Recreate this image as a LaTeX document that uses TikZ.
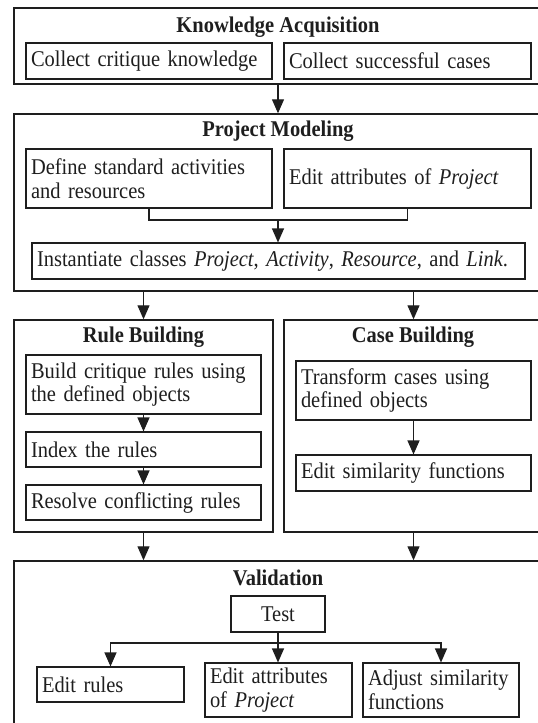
\documentclass[tikz,border=0pt]{standalone}
\usepackage{fontspec}
\setmainfont{Liberation Serif}[FakeStretch=0.91]
\usetikzlibrary{arrows.meta}
\definecolor{ink}{HTML}{1E1E1E}
\begin{document}
\begin{tikzpicture}[x=1pt,y=-1pt,
  every node/.style={text=ink,font=\fontsize{22.5}{23.5}\selectfont},
  stage/.style={draw=ink,line width=1.4pt,rectangle,inner sep=0pt},
  title/.style={font=\fontsize{22.5}{23.5}\selectfont\bfseries},
  task/.style={draw=ink,line width=1.1pt,rectangle,inner xsep=5pt,inner ysep=2pt,align=left},
  conn/.style={draw=ink,line width=1.1pt},
  arr/.style={conn,-{Triangle[width=12pt,length=14pt]}}]
\useasboundingbox (0,0) rectangle (538,723);
\clip (0,0) rectangle (538,723);

% --- stage frames ---
\node[stage,minimum width=531pt,minimum height=76pt] (ka) at (279.5,46) {};
\node[stage,minimum width=531pt,minimum height=177pt] (pm) at (279.5,202.5) {};
\node[stage,minimum width=259pt,minimum height=212pt] (rb) at (143.5,426) {};
\node[stage,minimum width=261pt,minimum height=212pt] (cb) at (414.5,426) {};
\node[stage,minimum width=531pt,minimum height=180pt] (va) at (279.5,651) {};

% --- stage titles ---
\node[title] (kat) at (278,27) {Knowledge Acquisition};
\node[title] (pmt) at (278,131) {Project Modeling};
\node[title] (rbt) at (143.5,337) {Rule Building};
\node[title] (cbt) at (413,337) {Case Building};
\node[title] (vat) at (278,578) {Validation};

% --- knowledge acquisition ---
\node[task,minimum width=246pt,minimum height=36pt,text width=236pt] (cck) at (149,61) {Collect critique knowledge};
\node[task,minimum width=247pt,minimum height=36pt,text width=237pt] (csc) at (407.5,61) {Collect successful cases};

% --- project modeling ---
\node[task,minimum width=246pt,minimum height=59pt,text width=236pt] (def) at (149,178.5) {Define standard activities\\and resources};
\node[task,minimum width=247pt,minimum height=59pt,text width=237pt] (eap) at (407.5,178.5) {Edit attributes of \textit{Project}};
\node[task,minimum width=493pt,minimum height=36pt,text width=483pt] (inst) at (278.5,261) {Instantiate classes \textit{Project}, \textit{Activity}, \textit{Resource}, and \textit{Link}.};

% --- rule building ---
\node[task,minimum width=235pt,minimum height=59pt,text width=225pt] (build) at (143.5,384.5) {Build critique rules using\\the defined objects};
\node[task,minimum width=235pt,minimum height=35pt,text width=225pt] (index) at (143.5,449.5) {Index the rules};
\node[task,minimum width=235pt,minimum height=35pt,text width=225pt] (resolve) at (143.5,502.5) {Resolve conflicting rules};

% --- case building ---
\node[task,minimum width=235pt,minimum height=59pt,text width=225pt] (trans) at (413.5,390.5) {Transform cases using\\defined objects};
\node[task,minimum width=235pt,minimum height=36pt,text width=225pt] (esim) at (413.5,473) {Edit similarity functions};

% --- validation ---
\node[task,align=center,minimum width=94pt,minimum height=36pt] (test) at (278,614) {Test};
\node[task,minimum width=147pt,minimum height=35pt,text width=137pt] (erul) at (110.5,684.5) {Edit rules};
\node[task,minimum width=147pt,minimum height=54pt,text width=137pt] (eat) at (278.5,690) {Edit attributes\\of \textit{Project}};
\node[task,minimum width=156pt,minimum height=54pt,text width=146pt] (adj) at (441,690) {Adjust similarity\\functions};

% --- connectors ---
\coordinate (mid) at (278,0);
\coordinate (mj) at (278,220);
\coordinate (br) at (278,643);

\draw[arr] (ka.south -| mid) -- (pm.north -| mid);
\draw[conn] (def.south) |- (mj) -| (eap.south);
\draw[arr] (mj) -- (inst.north -| mj);
\draw[arr] (pm.south -| rb.north) -- (rb.north);
\draw[arr] (pm.south -| trans.north) -- (cb.north -| trans.north);
\draw[arr] (build.south) -- (index.north);
\draw[arr] (index.south) -- (resolve.north);
\draw[arr] (trans.south) -- (esim.north);
\draw[arr] (rb.south) -- (va.north -| rb.south);
\draw[arr] (cb.south -| trans.north) -- (va.north -| trans.north);
\draw[conn] (test.south) -- (br);
\draw[arr] (br) -| (erul.north);
\draw[arr] (br) -- (eat.north -| br);
\draw[arr] (br) -| (adj.north);
\end{tikzpicture}
\end{document}
